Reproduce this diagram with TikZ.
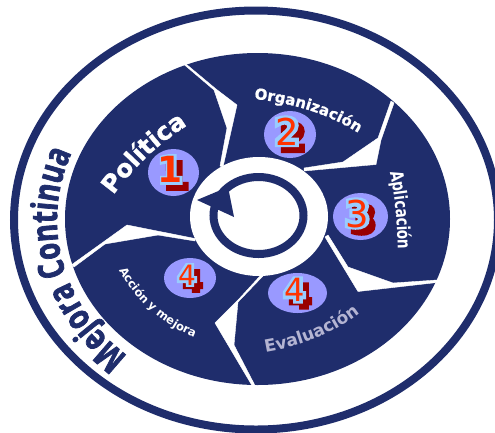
\documentclass[tikz,border=0pt]{standalone}
\usepackage{fontspec}
\usetikzlibrary{shapes.geometric,decorations.text}
\definecolor{NV}{HTML}{1F2D6C}
\definecolor{LI}{HTML}{9999FF}
\definecolor{SB}{HTML}{99CCFF}
\definecolor{DR}{HTML}{990000}
\definecolor{RD}{HTML}{FF3300}
\definecolor{GR}{HTML}{B4B4D2}
\newfontfamily\MCface{Open Sans}[FakeStretch=.76,FakeBold=2]
\newfontfamily\DVface{DejaVu Sans}
\newfontfamily\PLface{DejaVu Sans}[FakeBold=1]
\newfontfamily\APface{DejaVu Sans}[FakeStretch=.75]
\newfontfamily\GLface{DejaVu Sans}[FakeBold=12]
\newcommand{\FT}[2]{\fontsize{#1}{#1}#2\bfseries}
% digit with its shadow, glow and face
\newcommand{\DG}[3]{\raisebox{\dimexpr 3pt-.365\dimexpr #2pt\relax\relax}[0pt][0pt]{\makebox[0pt]{\kern-6pt\makebox[0pt]{\kern12pt\raisebox{-6pt}[0pt][0pt]{\textcolor{DR}{\FT{#2}{\GLface}#1}}}\makebox[0pt]{\textcolor{SB}{\FT{#2}{\GLface}#1}}\makebox[0pt]{\textcolor{RD}{\fontsize{#2}{#2}\DVface #3#1}}}}}
\tikzset{
    RG/.style ={draw=NV, line width=8pt},
    SP/.style ={fill=white, draw=white, line width=.4pt, line join=round},
    BD/.style ={ellipse, fill=LI, inner sep=0pt},
    CT/.style ={decorate, decoration={text along path, text align=center, text color=#1}}}

\begin{document}
\begin{tikzpicture}[x=1pt,y=-1pt]
        \useasboundingbox (0,0) rectangle (495,432);
        \draw[RG] (256,220) ellipse [x radius=242, y radius=209.5];
        \fill[NV] (257.5,219) ellipse [x radius=192.5, y radius=166];
        % separators
        \filldraw[SP] (184,64.5) -- (214,90) -- (227,128) -- (220,166) -- (223,167) -- (237,105) -- (216,89) -- (186,64) -- cycle;
        \filldraw[SP] (391,101) -- (378,138) -- (343,162) -- (304,168) -- (304,171) -- (376,164.5) -- (381,140) -- (394,103) -- cycle;
        \filldraw[SP] (328,235) -- (348,267) -- (393,283) -- (437,280) -- (437,282.5) -- (358,291.5) -- (325,237) -- cycle;
        \filldraw[SP] (260,276) -- (238,300) -- (215,323) -- (252,385.5) -- (255,385.5) -- (234,345) -- (238,302) -- (263,276) -- cycle;
        \filldraw[SP] (72,264.5) -- (127,225) -- (195,238.5) -- (195,241) -- (158,235) -- (105,244) -- (74,267) -- cycle;
        % hub
        \fill[white] (259,216.5) ellipse [x radius=69, y radius=59.5];
        \draw[RG] (258.5,215.5) ellipse [x radius=45, y radius=38.5];
        \fill[NV] (197,200) -- (228,187) -- (234,217) -- cycle;
        % numbered discs
        \node[BD,minimum width=51pt,minimum height=47pt] (1) at(173.5,172.5){\DG{1}{36}{\bfseries}};
        \node[BD,minimum width=52pt,minimum height=47pt] (2) at(290,134.5){\DG{2}{37}{}};
        \node[BD,minimum width=55pt,minimum height=47pt] (3) at(360.5,216.5){\DG{3}{37}{}};
        \node[BD,minimum width=52pt,minimum height=40pt] (4) at(190,278){\DG{4}{28}{}};
        \node[BD,minimum width=59pt,minimum height=40pt] (5) at(297.5,293){\DG{4}{32}{}};
        % labels
        \path[CT=NV,decoration={text={|\FT{36}{\MCface}|Mejora Continua}}] ([shift={(98:200 and 178)}]257,220) arc [start angle=98, end angle=236, x radius=200, y radius=178];
        \path[CT=white,decoration={text={|\FT{24.5}{\PLface}|Política}}] (105,207) .. controls (130,170) and (160,140) .. (200,118);
        \path[CT=white,decoration={text={|\FT{15}{\PLface}|Organización}}] (245,98) .. controls (290,102) and (330,113) .. (366,138);
        \path[CT=white,decoration={text={|\FT{18}{\APface}|Aplicación}}] (387,160) .. controls (395,190) and (398,225) .. (398,262);
        \path[CT=GR,decoration={text={|\FT{17}{\DVface}|Evaluación}}] (255,354) .. controls (295,349) and (335,335) .. (368,306);
        \path[CT=white,decoration={text={|\FT{11.5}{\DVface}|Acción y mejora}}] (114,260) .. controls (130,295) and (160,327) .. (205,341);
\end{tikzpicture}
\end{document}
